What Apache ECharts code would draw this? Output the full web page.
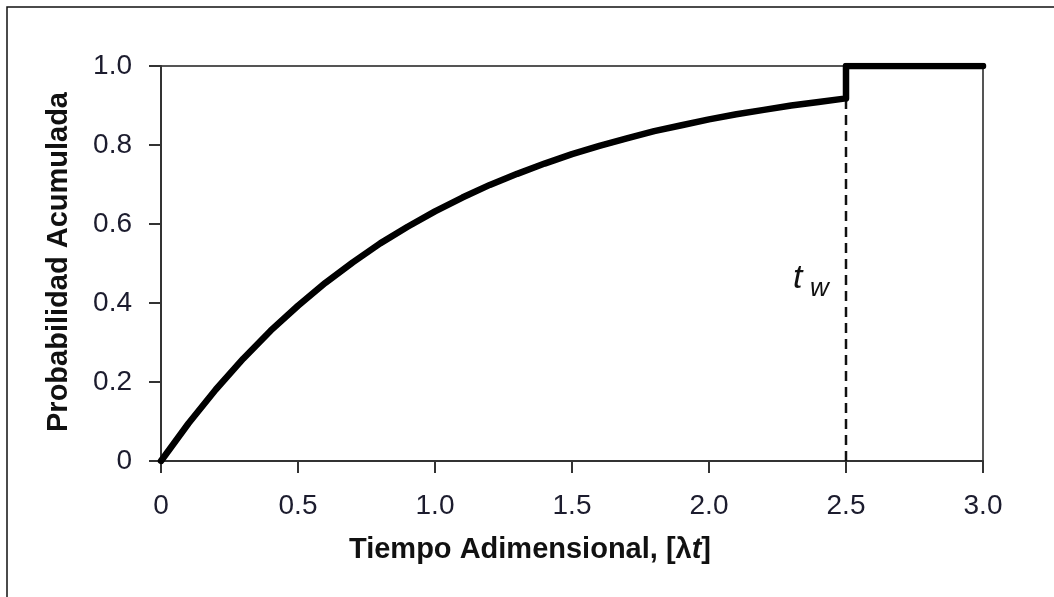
<!DOCTYPE html>
<html>
<head>
<meta charset="utf-8">
<script src="https://cdn.jsdelivr.net/npm/echarts@6/dist/echarts.min.js"></script>
<style>
  html, body { margin: 0; padding: 0; background: #fff; }
  #chart { width: 1054px; height: 597px; }
</style>
</head>
<body>
<div id="chart"></div>
<script>
// Dimensionless time λt and cumulative probability before the waiting time
const timeValues = [0, 0.1, 0.2, 0.3, 0.4, 0.5, 0.6, 0.7, 0.8, 0.9, 1.0, 1.1, 1.2,
  1.3, 1.4, 1.5, 1.6, 1.7, 1.8, 1.9, 2.0, 2.1, 2.2, 2.3, 2.4, 2.5];
const cumulativeProb = [0, 0.095, 0.181, 0.259, 0.330, 0.393, 0.451, 0.503, 0.551,
  0.593, 0.632, 0.667, 0.699, 0.727, 0.753, 0.777, 0.798, 0.817, 0.835, 0.850,
  0.865, 0.878, 0.889, 0.900, 0.909, 0.918];
// Step to certainty at the waiting time t_w, then flat to the end of the axis
const stepTime = [2.5, 2.5, 3.0];
const stepProb = [0.918, 1.0, 1.0];
// Waiting time marker
const waitTime = 2.5;
const waitProb = 0.918;

const xTicks = { min: 0, max: 3.0, interval: 0.5 };
const yTicks = { min: 0, max: 1.0, interval: 0.2 };

const curveData = timeValues.map((t, i) => [t, cumulativeProb[i]])
  .concat(stepTime.map((t, i) => [t, stepProb[i]]));
const waitLine = [[waitTime, 0], [waitTime, waitProb]];

const fmt = v => (v === 0 ? '0' : v.toFixed(1));
const FONT = '"Liberation Sans", Arial, sans-serif';
const labelColor = '#1c1c2e';

const chart = echarts.init(document.getElementById('chart'), null, { renderer: 'canvas' });
chart.setOption({
  backgroundColor: '#fff',
  animation: false,
  grid: {
    left: 161, top: 66, right: 71, bottom: 136,
    show: true, borderColor: '#555', borderWidth: 2, backgroundColor: 'transparent'
  },
  xAxis: {
    type: 'value', min: xTicks.min, max: xTicks.max, interval: xTicks.interval,
    axisLine: { show: true, onZero: false, lineStyle: { color: '#333', width: 2 } },
    axisTick: { show: true, inside: false, length: 12, lineStyle: { color: '#333', width: 2 } },
    splitLine: { show: false },
    axisLabel: { formatter: fmt, fontFamily: FONT, fontSize: 28, color: labelColor, margin: 31 }
  },
  yAxis: {
    type: 'value', min: yTicks.min, max: yTicks.max, interval: yTicks.interval,
    axisLine: { show: true, onZero: false, lineStyle: { color: '#333', width: 2 } },
    axisTick: { show: true, inside: false, length: 12, lineStyle: { color: '#333', width: 2 } },
    splitLine: { show: false },
    axisLabel: { formatter: fmt, fontFamily: FONT, fontSize: 28, color: labelColor, margin: 29 }
  },
  series: [
    {
      name: 'waiting time',
      type: 'line',
      data: waitLine,
      symbol: 'none',
      lineStyle: { color: '#111', width: 2.5, type: [10, 6] },
      z: 2
    },
    {
      name: 'cumulative probability',
      type: 'line',
      data: curveData,
      symbol: 'none',
      smooth: false,
      lineStyle: { color: '#000', width: 6.5, cap: 'round', join: 'round' },
      z: 3
    }
  ],
  graphic: [
    {
      type: 'rect',
      shape: { x: 7, y: 7, width: 1200, height: 800 },
      style: { fill: 'none', stroke: '#111', lineWidth: 1.5 },
      silent: true
    },
    {
      type: 'text',
      x: 59, y: 262,
      rotation: Math.PI / 2,
      style: {
        text: 'Probabilidad Acumulada',
        font: 'bold 29px ' + FONT,
        fill: '#111',
        align: 'center',
        verticalAlign: 'middle'
      }
    },
    {
      type: 'text',
      x: 530, y: 550,
      style: {
        text: '{a|Tiempo Adimensional, [λ}{b|t}{a|]}',
        align: 'center',
        verticalAlign: 'middle',
        rich: {
          a: { font: 'bold 29px ' + FONT, fill: '#111' },
          b: { font: 'italic bold 29px ' + FONT, fill: '#111' }
        }
      }
    },
    {
      type: 'text',
      x: 793, y: 262,
      style: { text: 't', font: 'italic 34px ' + FONT, fill: '#111' }
    },
    {
      type: 'text',
      x: 810, y: 276,
      style: { text: 'w', font: 'italic 26px ' + FONT, fill: '#111' }
    }
  ]
});
</script>
</body>
</html>
